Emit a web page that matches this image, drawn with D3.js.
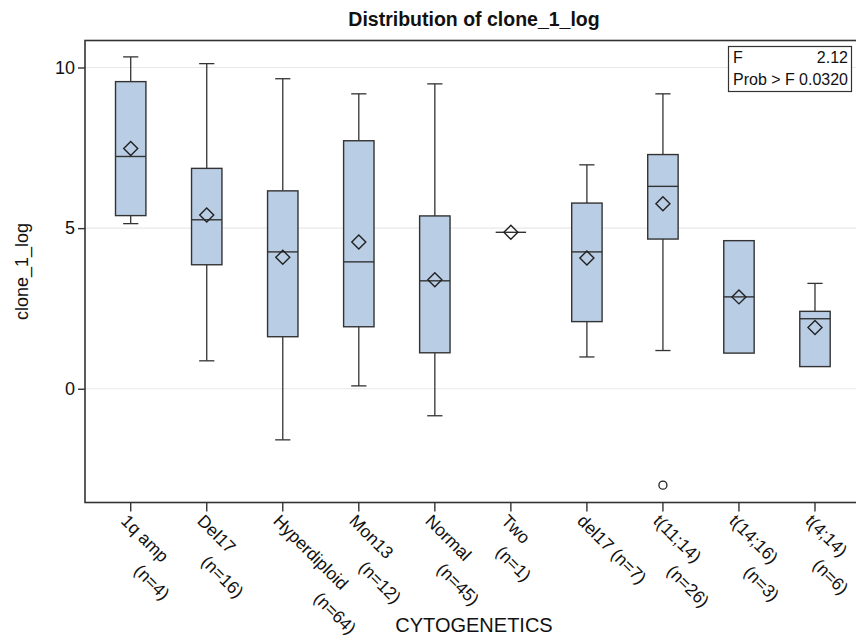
<!DOCTYPE html>
<html>
<head>
<meta charset="utf-8">
<script src="https://cdn.jsdelivr.net/npm/d3@7"></script>
<style>
	body { margin: 0; background: #fff; }
	svg { display: block; }
</style>
</head>
<body>
<svg id="chart"></svg>
<script>
// groups and their sizes
const categories = ["1q amp", "Del17", "Hyperdiploid", "Mon13", "Normal", "Two", "del17", "t(11;14)", "t(14;16)", "t(4;14)"]
const counts = [4, 16, 64, 12, 45, 1, 7, 26, 3, 6]
// groups whose tick label stays on one line
const oneLineLabels = ["del17"]

// box statistics
const whiskerLow = [5.14, 0.87, -1.59, 0.09, -0.84, 4.87, 0.99, 1.19, 1.11, 0.69]
const q1 = [5.39, 3.86, 1.62, 1.93, 1.12, 4.87, 2.09, 4.66, 1.11, 0.69]
const medians = [7.23, 5.26, 4.26, 3.95, 3.36, 4.87, 4.26, 6.30, 2.86, 2.18]
const q3 = [9.56, 6.86, 6.16, 7.72, 5.38, 4.87, 5.78, 7.29, 4.61, 2.41]
const whiskerHigh = [10.33, 10.12, 9.65, 9.18, 9.49, 4.87, 6.97, 9.18, 4.61, 3.28]
const means = [7.48, 5.41, 4.09, 4.57, 3.39, 4.87, 4.07, 5.76, 2.86, 1.91]
const outliers = [{ group: "t(11;14)", value: -3.0 }]

const yTicks = [0, 5, 10]
const fStats = [["F", "2.12"], ["Prob > F", "0.0320"]]

const width = 856, height = 640
const font = "'Liberation Sans', Arial, Helvetica, sans-serif"
const ink = "#333"

const svg = d3.select("#chart")
	.attr("width", width)
	.attr("height", height)

const plot = { left: 85, right: 858, top: 40.5, bottom: 502.5 }

const x = d3.scaleBand()
	.domain(categories)
	.range([92.7, 853])
	.padding(0)

const y = d3.scaleLinear()
	.domain([-3.54, 10.84])
	.range([plot.bottom, plot.top])

const boxW = x.bandwidth() * 0.4
const cx = (c) => x(c) + x.bandwidth() / 2

// grid lines
svg.append("g")
	.selectAll("line")
	.data(yTicks)
	.enter()
	.append("line")
	.attr("x1", plot.left).attr("x2", plot.right)
	.attr("y1", d => y(d)).attr("y2", d => y(d))
	.style("stroke", "#e8e8e8")
	.style("stroke-width", 1.2)

// boxes
const groups = categories.map((c, i) => ({
	name: c, lo: whiskerLow[i], q1: q1[i], med: medians[i], q3: q3[i], hi: whiskerHigh[i], mean: means[i]
}))

const boxes = svg.append("g")
	.selectAll("g")
	.data(groups)
	.enter()
	.append("g")
	.attr("transform", d => `translate(${cx(d.name)},0)`)

// whiskers
boxes.append("line")
	.attr("y1", d => y(d.q3)).attr("y2", d => y(d.hi))
	.style("stroke", ink).style("stroke-width", 1.3)
boxes.append("line")
	.attr("y1", d => y(d.q1)).attr("y2", d => y(d.lo))
	.style("stroke", ink).style("stroke-width", 1.3)
boxes.filter(d => d.hi > d.q3).append("line")
	.attr("x1", -boxW / 4).attr("x2", boxW / 4)
	.attr("y1", d => y(d.hi)).attr("y2", d => y(d.hi))
	.style("stroke", ink).style("stroke-width", 1.3)
boxes.filter(d => d.lo < d.q1).append("line")
	.attr("x1", -boxW / 4).attr("x2", boxW / 4)
	.attr("y1", d => y(d.lo)).attr("y2", d => y(d.lo))
	.style("stroke", ink).style("stroke-width", 1.3)

boxes.append("rect")
	.attr("x", -boxW / 2)
	.attr("width", boxW)
	.attr("y", d => y(d.q3))
	.attr("height", d => y(d.q1) - y(d.q3))
	.style("fill", "#b9cde5")
	.style("stroke", ink)
	.style("stroke-width", 1.4)

boxes.append("line")
	.attr("x1", -boxW / 2).attr("x2", boxW / 2)
	.attr("y1", d => y(d.med)).attr("y2", d => y(d.med))
	.style("stroke", ink).style("stroke-width", 1.4)

// mean marker
boxes.append("path")
	.attr("transform", d => `translate(0,${y(d.mean)})`)
	.attr("d", "M 0,-7 7,0 0,7 -7,0 z")
	.style("fill", "none")
	.style("stroke", "#222")
	.style("stroke-width", 1.4)

// outliers
svg.append("g")
	.selectAll("circle")
	.data(outliers)
	.enter()
	.append("circle")
	.attr("cx", d => cx(d.group))
	.attr("cy", d => y(d.value))
	.attr("r", 4)
	.style("fill", "none")
	.style("stroke", "#222")
	.style("stroke-width", 1.3)

// frame
svg.append("rect")
	.attr("x", plot.left).attr("y", plot.top)
	.attr("width", plot.right - plot.left)
	.attr("height", plot.bottom - plot.top)
	.style("fill", "none")
	.style("stroke", ink)
	.style("stroke-width", 1.6)

// y axis
const yAxis = svg.append("g")
	.attr("transform", `translate(${plot.left},0)`)
	.call(d3.axisLeft(y).tickValues(yTicks).tickSize(7).tickPadding(3))
yAxis.select(".domain").remove()
yAxis.selectAll("line").style("stroke", ink).style("stroke-width", 1.4)
yAxis.selectAll("text")
	.style("font-family", font)
	.style("font-size", "18px")
	.style("fill", "#111")

// x axis ticks
const xAxis = svg.append("g")
	.attr("transform", `translate(0,${plot.bottom})`)
	.call(d3.axisBottom(x).tickSize(9).tickFormat(""))
xAxis.select(".domain").remove()
xAxis.selectAll("line").style("stroke", ink).style("stroke-width", 1.4)

// rotated tick labels, group name then count
categories.forEach((c, i) => {
	const label = svg.append("text")
		.attr("transform", `translate(${cx(c)},${plot.bottom + 9}) rotate(45)`)
		.style("font-family", font)
		.style("font-size", "17.5px")
		.style("fill", "#111")
	const n = `(n=${counts[i]})`
	if (oneLineLabels.includes(c)) {
		label.append("tspan").attr("x", 0).attr("y", 15).text(`${c} ${n}`)
	} else {
		const first = label.append("tspan").attr("x", 0).attr("y", 15).text(c)
		const len = first.node().getComputedTextLength()
		label.append("tspan").attr("x", len - 14).attr("y", 41).text(n)
	}
})

// axis titles
svg.append("text")
	.attr("x", 474).attr("y", 632)
	.attr("text-anchor", "middle")
	.text("CYTOGENETICS")
	.style("font-family", font)
	.style("font-size", "20px")
	.style("fill", "#111")

svg.append("text")
	.attr("transform", `translate(28,${(plot.top + plot.bottom) / 2}) rotate(-90)`)
	.attr("text-anchor", "middle")
	.text("clone_1_log")
	.style("font-family", font)
	.style("font-size", "18px")
	.style("fill", "#111")

// title
svg.append("text")
	.attr("x", 474).attr("y", 26)
	.attr("text-anchor", "middle")
	.text("Distribution of clone_1_log")
	.style("font-family", font)
	.style("font-size", "19.5px")
	.style("font-weight", "bold")
	.style("fill", "#111")

// F statistic inset
const inset = svg.append("g")
inset.append("rect")
	.attr("x", 728.5).attr("y", 46.5)
	.attr("width", 123).attr("height", 45)
	.style("fill", "#fff")
	.style("stroke", ink)
	.style("stroke-width", 1.2)
fStats.forEach((row, i) => {
	inset.append("text")
		.attr("x", 733).attr("y", 63 + i * 22)
		.text(row[0])
		.style("font-family", font).style("font-size", "16px").style("fill", "#111")
	inset.append("text")
		.attr("x", 848).attr("y", 63 + i * 22)
		.attr("text-anchor", "end")
		.text(row[1])
		.style("font-family", font).style("font-size", "16px").style("fill", "#111")
})
</script>
</body>
</html>
